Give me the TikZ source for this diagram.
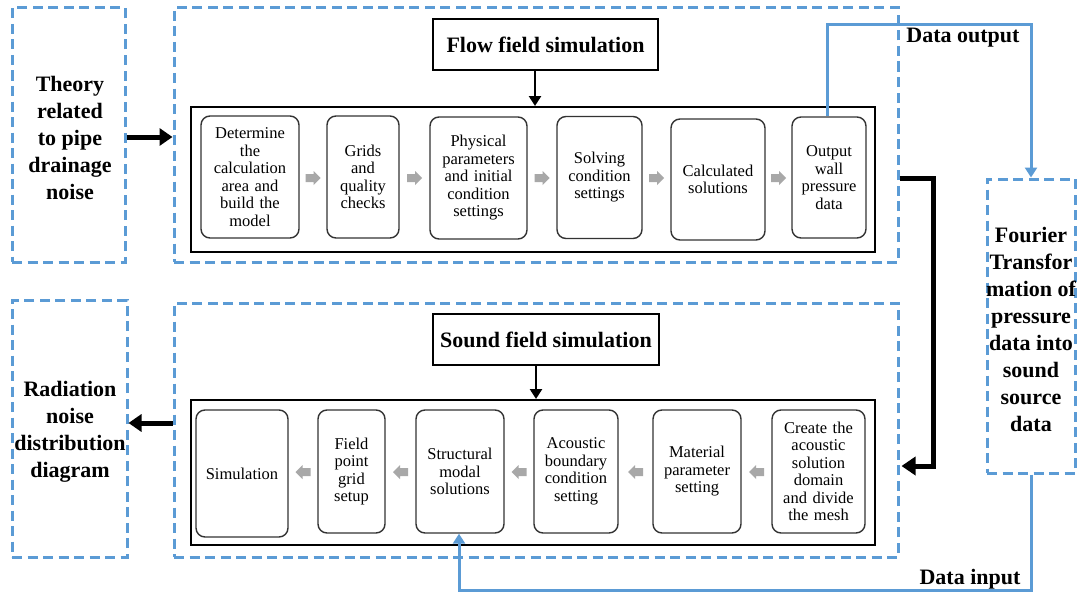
\documentclass[tikz,border=0pt]{standalone}
\usepackage{fontspec}
\setmainfont{Liberation Serif}
\usetikzlibrary{arrows.meta,calc}
\definecolor{dblue}{RGB}{91,155,213}
\definecolor{garrow}{RGB}{168,168,168}
\tikzset{
  dbox/.style={draw=dblue,line width=3pt,dash pattern=on 10pt off 5.5pt,inner sep=0pt},
  dtext/.style={inner sep=0pt,align=center,font=\fontsize{22}{27}\selectfont\bfseries},
  titlebox/.style={draw=black,line width=1.6pt,inner sep=0pt,font=\fontsize{22}{27}\selectfont\bfseries},
  framebox/.style={draw=black,line width=2pt,inner sep=0pt},
  stepbox/.style={draw=black!80,line width=1.4pt,rounded corners=9pt,inner sep=0pt,align=center,
    font=\fontsize{16.5}{17.5}\selectfont},
  garrR/.pic={\fill[garrow] (-7.5,-4) -- (0.5,-4) -- (0.5,-7) -- (7.5,0) -- (0.5,7) -- (0.5,4) -- (-7.5,4) -- cycle;},
  garrL/.pic={\fill[garrow] (7.5,-4) -- (-0.5,-4) -- (-0.5,-7) -- (-7.5,0) -- (-0.5,7) -- (-0.5,4) -- (7.5,4) -- cycle;},
  bigarrow/.style={line width=5pt,-{Triangle[length=13pt,width=17pt]}},
  downarrow/.style={line width=2.8pt,-{Triangle[length=10pt,width=12pt]}},
  bluearrow/.style={draw=dblue,line width=3pt,-{Triangle[length=10pt,width=12pt]}},
  bluelabel/.style={font=\fontsize{22}{27}\selectfont\bfseries,inner sep=0pt}
}
\begin{document}
\begin{tikzpicture}[x=1pt,y=-1pt]
\useasboundingbox[fill=white] (0,0) rectangle (1081,594);
% dashed containers
\node[dbox,minimum width=113pt,minimum height=254pt] (theory) at (68.5,135) {};
\node[dtext] (theoryt) at (70,138) {Theory\\related\\to pipe\\drainage\\noise};
\node[dbox,minimum width=724pt,minimum height=254pt] (fouter) at (536,135) {};
\node[dbox,minimum width=115pt,minimum height=257pt] (rad) at (69.5,428.5) {};
\node[dtext] (radt) at (70,432) {Radiation\\noise\\distribution\\diagram};
\node[dbox,minimum width=724pt,minimum height=254pt] (souter) at (536,430) {};
\node[dbox,minimum width=88pt,minimum height=294pt] (fourier) at (1031,326) {};
\node[dtext] (fouriert) at (1031,329) {Fourier\\Transfor\\mation of\\pressure\\data into\\sound\\source\\data};
% titles
\node[titlebox,minimum width=225pt,minimum height=51pt] (ftitle) at (545.5,44.5) {Flow field simulation};
\node[titlebox,minimum width=226pt,minimum height=51pt] (stitle) at (546,339.5) {Sound field simulation};
% frames
\node[framebox,minimum width=684pt,minimum height=145pt] (finner) at (533,179.5) {};
\node[framebox,minimum width=684pt,minimum height=145pt] (sinner) at (533,472.5) {};
% flow steps
\node[stepbox,minimum width=98pt,minimum height=122pt,text width=98pt] (f1) at (250,177) {Determine\\the\\calculation\\area and\\build the\\model};
\node[stepbox,minimum width=72pt,minimum height=122pt,text width=72pt] (f2) at (363,177) {Grids\\and\\quality\\checks};
\node[stepbox,minimum width=97pt,minimum height=122pt,text width=97pt] (f3) at (478.5,178) {Physical\\parameters\\and initial\\condition\\settings};
\node[stepbox,minimum width=85pt,minimum height=122pt,text width=85pt] (f4) at (599.5,177.5) {Solving\\condition\\settings};
\node[stepbox,minimum width=94pt,minimum height=121pt,text width=94pt] (f5) at (718,179.5) {Calculated\\solutions};
\node[stepbox,minimum width=74pt,minimum height=121pt,text width=74pt] (f6) at (829,177.5) {Output\\wall\\pressure\\data};
% sound steps
\node[stepbox,minimum width=92pt,minimum height=127pt,text width=92pt] (s1) at (242,473.5) {Simulation};
\node[stepbox,minimum width=67pt,minimum height=123pt,text width=67pt] (s2) at (351.5,471.5) {Field\\point\\grid\\setup};
\node[stepbox,minimum width=88pt,minimum height=123pt,text width=88pt] (s3) at (460,471.5) {Structural\\modal\\solutions};
\node[stepbox,minimum width=84pt,minimum height=123pt,text width=84pt] (s4) at (576,471.5) {Acoustic\\boundary\\condition\\setting};
\node[stepbox,minimum width=88pt,minimum height=123pt,text width=88pt] (s5) at (697,471.5) {Material\\parameter\\setting};
\node[stepbox,minimum width=93pt,minimum height=123pt,text width=93pt] (s6) at (818.5,471.5) {Create the\\acoustic\\solution\\domain\\and divide\\the mesh};
% gray arrows
\coordinate (g1) at ($(f1.east)!0.5!(f2.west)$);
\coordinate (g2) at ($(f2.east)!0.5!(f3.west)$);
\coordinate (g3) at ($(f3.east)!0.5!(f4.west)$);
\coordinate (g4) at ($(f4.east)!0.5!(f5.west)$);
\coordinate (g5) at ($(f5.east)!0.5!(f6.west)$);
\foreach \g in {g1,g2,g3,g4,g5} {\pic at (\g |- 0,178) {garrR};}
\coordinate (h1) at ($(s1.east)!0.5!(s2.west)$);
\coordinate (h2) at ($(s2.east)!0.5!(s3.west)$);
\coordinate (h3) at ($(s3.east)!0.5!(s4.west)$);
\coordinate (h4) at ($(s4.east)!0.5!(s5.west)$);
\coordinate (h5) at ($(s5.east)!0.5!(s6.west)$);
\foreach \h in {h1,h2,h3,h4,h5} {\pic at (\h |- 0,472) {garrL};}
% black arrows
\draw[bigarrow] (theory.east |- 0,137) -- (fouter.west |- 0,137);
\draw[bigarrow] (souter.west |- 0,423) -- (rad.east |- 0,423);
\draw[downarrow] (ftitle.south -| 535,0) -- (finner.north -| 535,0);
\draw[downarrow] (stitle.south -| 536,0) -- (sinner.north -| 536,0);
\coordinate (bc) at (933,178);
\draw[line width=5pt,-{Triangle[length=14pt,width=18pt]}] (fouter.east |- bc) -- (bc) |- ([xshift=2pt]souter.east |- 0,466);
% blue data connectors
\coordinate (dout) at (1031,25);
\draw[bluearrow] (f6.north -| 827,0) |- (dout) -- (fourier.north);
\coordinate (din) at (1031,590);
\draw[bluearrow] (fourier.south) -- (din) -| (s3.south -| 459,0);
\node[bluelabel] (doutl) at (963,38) {Data output};
\node[bluelabel] (dinl) at (970,579) {Data input};
\end{tikzpicture}
\end{document}
